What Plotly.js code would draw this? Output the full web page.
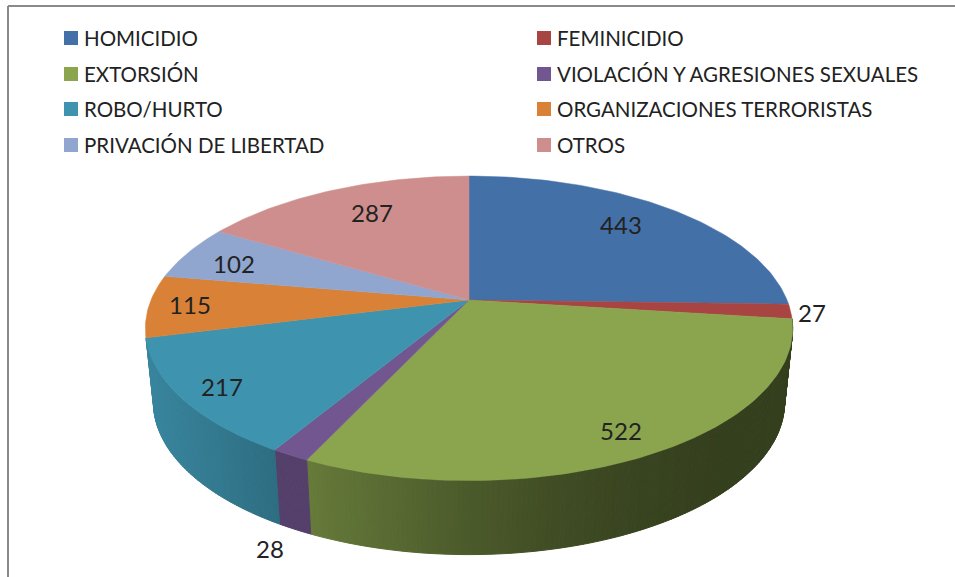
<!DOCTYPE html>
<html><head><meta charset="utf-8">
<script src="https://cdn.plot.ly/plotly-3.0.1.min.js"></script>
<style>html,body{margin:0;padding:0;background:#fff}#c{width:955px;height:577px}</style>
</head><body><div id="c"></div>
<script>
const categories = ["HOMICIDIO","FEMINICIDIO","EXTORSIÓN","VIOLACIÓN Y AGRESIONES SEXUALES","ROBO/HURTO","ORGANIZACIONES TERRORISTAS","PRIVACIÓN DE LIBERTAD","OTROS"];
const values = [443,27,522,28,217,115,102,287];
const colors = ["#4470A8","#A84442","#8AA54E","#715690","#3E94AF","#D98137","#90A6CF","#CF8E8E"];
const labelX = [621,812,621,270,222,190,234,372];
const labelY = [228,316,434,552,390,308,267,216];
const legendX = [71,544,71,544,71,544,71,544];
const legendY = [38,38,74,74,109,109,145,145];

const CX=469, CY=300, A=147, B=318, K=0.186, DEPTH=74, BOT=0.975;
const total = values.reduce((a,b)=>a+b,0);
function topPt(deg){const t=deg*Math.PI/180,u=Math.sin(t),v=Math.cos(t),w=1+K*v;return [CX+B*u/w,CY-A*v/w];}
function botPt(deg){const p=topPt(deg);return [CX+(p[0]-CX)*BOT,p[1]+DEPTH];}
function shade(hex,f){const n=parseInt(hex.slice(1),16);return `rgb(${Math.round((n>>16)*f)},${Math.round(((n>>8)&255)*f)},${Math.round((n&255)*f)})`;}
function sideFactor(x){
  const xs=[145,275,307,465,550,640,720,800], fs=[0.9,0.74,0.74,0.55,0.47,0.41,0.38,0.38];
  for(let i=1;i<xs.length;i++) if(x<=xs[i]){const r=(x-xs[i-1])/(xs[i]-xs[i-1]);return fs[i-1]+r*(fs[i]-fs[i-1]);}
  return fs[fs.length-1];
}
let edges=[0]; values.forEach(v=>edges.push(edges[edges.length-1]+v/total*360));
const traces=[];
// side wall: only the front-facing slices
for(let i=2;i<=4;i++){
  const s=edges[i], e=edges[i+1];
  const n=Math.max(1,Math.ceil((e-s)/0.75));
  for(let j=0;j<n;j++){
    const a=s+(e-s)*j/n,b=s+(e-s)*(j+1)/n;
    const steps=[a,b];
    const pts=steps.map(topPt).concat(steps.slice().reverse().map(botPt));
    const col=shade(colors[i],sideFactor((topPt(a)[0]+topPt(b)[0])/2));
    traces.push({type:"scatter",mode:"lines",x:pts.map(p=>p[0]).concat(pts[0][0]),y:pts.map(p=>p[1]).concat(pts[0][1]),
      fill:"toself",fillcolor:col,line:{color:col,width:1},hoverinfo:"skip",showlegend:false});
  }
}
// top face
values.forEach((val,i)=>{
  const n=Math.max(4,Math.ceil((edges[i+1]-edges[i])));
  const pts=[[CX,CY]];
  for(let j=0;j<=n;j++) pts.push(topPt(edges[i]+(edges[i+1]-edges[i])*j/n));
  pts.push([CX,CY]);
  traces.push({type:"scatter",mode:"lines",x:pts.map(p=>p[0]),y:pts.map(p=>p[1]),fill:"toself",fillcolor:colors[i],
    line:{color:colors[i],width:0.5},name:categories[i],text:String(val),hoverinfo:"name+text",showlegend:false});
});
// value labels
traces.push({type:"scatter",mode:"text",x:labelX,y:labelY,text:values.map(String),textposition:"middle center",
  textfont:{family:"Lato, sans-serif",size:24,color:"#222"},hoverinfo:"skip",showlegend:false});
// legend swatches
traces.push({type:"scatter",mode:"markers",x:legendX,y:legendY,marker:{symbol:"square",size:14,color:colors,line:{width:0}},hoverinfo:"skip",showlegend:false});
const annotations=categories.map((c,i)=>({text:c,x:legendX[i]+11,y:legendY[i],xref:"x",yref:"y",xanchor:"left",yanchor:"middle",showarrow:false,
  font:{family:"Lato, sans-serif",size:20.5,color:"#222"}}));
const border={type:"line",line:{color:"#8a8a8a",width:2}};
const layout={width:955,height:577,margin:{l:0,r:0,t:0,b:0},paper_bgcolor:"#fff",plot_bgcolor:"#fff",showlegend:false,
  xaxis:{range:[0,955],visible:false,fixedrange:true},yaxis:{range:[577,0],visible:false,fixedrange:true},annotations,
  shapes:[Object.assign({x0:8,x1:955,y0:6,y1:6,xref:"x",yref:"y"},border),Object.assign({x0:8,x1:8,y0:6,y1:577,xref:"x",yref:"y"},border)]};
Plotly.newPlot("c",traces,layout,{displayModeBar:false,staticPlot:true});
</script></body></html>
